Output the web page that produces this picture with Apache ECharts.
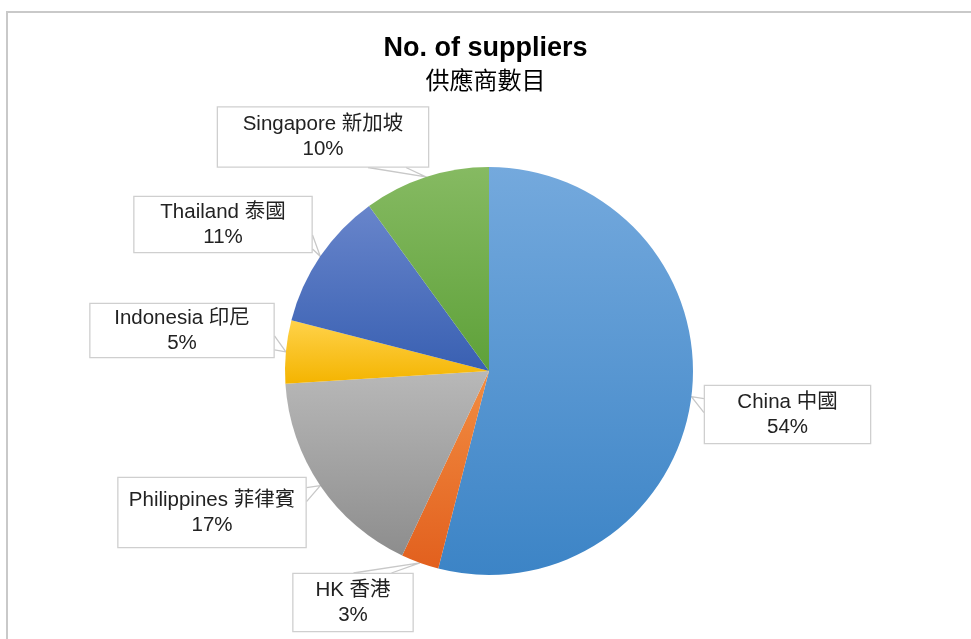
<!DOCTYPE html>
<html><head><meta charset="utf-8">
<script src="https://cdn.jsdelivr.net/npm/echarts@6/dist/echarts.min.js"></script>
<style>html,body{margin:0;padding:0;background:#fff}#c{width:971px;height:639px}</style>
</head><body><div id="c"></div>
<script>
const categories = ['China 中國', 'HK 香港', 'Philippines 菲律賓', 'Indonesia 印尼', 'Thailand 泰國', 'Singapore 新加坡'];
const values = [54, 3, 17, 5, 11, 10];
const titleText = 'No. of suppliers';
const subtitleText = '供應商數目';

// styling / layout (not data)
const gradients = [
  ['#74a9dd', '#3c84c6'],
  ['#f28d42', '#e2601e'],
  ['#b8b8b8', '#8d8d8d'],
  ['#ffd24a', '#f4b400'],
  ['#6885cb', '#3960b2'],
  ['#86ba62', '#5ea139']
];
const boxes = [
  {cx: 787.5, cy: 414.5, w: 167, h: 59},
  {cx: 353, cy: 602.5, w: 121, h: 59},
  {cx: 212, cy: 512.5, w: 189, h: 71},
  {cx: 182, cy: 330.5, w: 185, h: 55},
  {cx: 223, cy: 224.5, w: 179, h: 57},
  {cx: 323, cy: 137, w: 212, h: 61}
];
const CENTER = [489, 371], RADIUS = 204;

const total = values.reduce((a, b) => a + b, 0);
const cum = [];
values.reduce((a, v, i) => { cum[i] = a + v / 2; return a + v; }, 0);

const chart = echarts.init(document.getElementById('c'), null, {renderer: 'canvas'});
const data = categories.map((n, i) => ({
  name: n, value: values[i],
  itemStyle: {color: new echarts.graphic.LinearGradient(0, 0, 0, 1, [
    {offset: 0, color: gradients[i][0]}, {offset: 1, color: gradients[i][1]}])},
  label: {width: boxes[i].w - 2, lineHeight: 25,
    padding: [(boxes[i].h - 2 - 50) / 2, 0, (boxes[i].h - 2 - 50) / 2, 0]}
}));

function clamp(v, a, b) { return Math.max(a, Math.min(b, v)); }

chart.setOption({
  animation: false,
  backgroundColor: '#fff',
  title: [
    {text: titleText, left: 'center', top: 30, textStyle: {fontFamily: 'Liberation Sans, Arial, sans-serif', fontSize: 27, fontWeight: 'bold', color: '#000'}},
    {text: subtitleText, left: 'center', top: 63, textStyle: {fontFamily: 'Noto Sans CJK TC, sans-serif', fontSize: 24, fontWeight: 'normal', color: '#000'}}
  ],
  graphic: [{type: 'rect', shape: {x: 7, y: 12, width: 1000, height: 700}, style: {fill: 'none', stroke: '#c9c9c9', lineWidth: 2}, silent: true}],
  series: [{
    type: 'pie',
    center: CENTER,
    radius: [0, RADIUS],
    startAngle: 90,
    clockwise: true,
    avoidLabelOverlap: false,
    itemStyle: {borderWidth: 0},
    label: {
      show: true,
      position: 'outside',
      formatter: p => p.name + '\n' + Math.round(p.percent) + '%',
      fontFamily: 'Liberation Sans, Arial, Noto Sans CJK TC, sans-serif',
      fontSize: 20.5,
      color: '#222',
      align: 'center',
      backgroundColor: '#fff',
      borderColor: '#cfcfcf',
      borderWidth: 1.3
    },
    labelLine: {show: true, lineStyle: {color: '#c8c8c8', width: 1.3}},
    labelLayout: function (p) {
      const i = p.dataIndex;
      const b = boxes[i];
      const ang = cum[i] / total * Math.PI * 2;
      const tip = [CENTER[0] + RADIUS * Math.sin(ang), CENTER[1] - RADIUS * Math.cos(ang)];
      const l = b.cx - b.w / 2, r = b.cx + b.w / 2, t = b.cy - b.h / 2, bt = b.cy + b.h / 2;
      const dx = tip[0] - clamp(tip[0], l, r), dy = tip[1] - clamp(tip[1], t, bt);
      let p1, p2;
      if (Math.abs(dx) >= Math.abs(dy)) {
        const ex = dx > 0 ? r : l;
        const y0 = clamp(tip[1], t + 2, bt - 2);
        const dir = y0 < b.cy ? 1 : -1;
        p1 = [ex, y0 + dir * 2];
        p2 = [ex, y0 + dir * 16];
      } else {
        const ey = dy > 0 ? bt : t;
        const x0 = clamp(tip[0], l + 2, r - 2);
        const dir = x0 < b.cx ? 1 : -1;
        p1 = [x0 + dir * 20, ey];
        p2 = [x0 + dir * 58, ey];
      }
      return {x: b.cx, y: b.cy, align: 'center', verticalAlign: 'middle', labelLinePoints: [p1, tip, p2]};
    },
    data: data
  }]
});
</script></body></html>
